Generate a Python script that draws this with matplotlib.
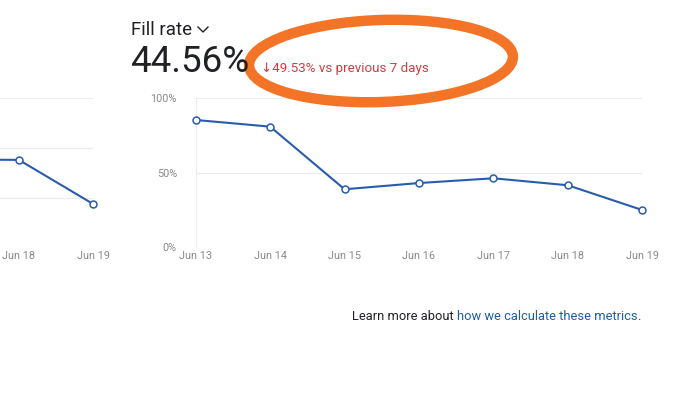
import numpy as np
import matplotlib
matplotlib.use("Agg")
import matplotlib.pyplot as plt
from matplotlib.patches import Ellipse
from matplotlib.lines import Line2D
from matplotlib.transforms import IdentityTransform

# data
dates = ["Jun 13", "Jun 14", "Jun 15", "Jun 16", "Jun 17", "Jun 18", "Jun 19"]
fill_rate = [85.4, 80.9, 38.7, 42.9, 46.1, 41.4, 24.7]
# neighbouring card, only the last days are visible
left_values = [np.nan, np.nan, np.nan, np.nan, 1.77, 1.76, 0.87]
left_labels = ["", "", "", "", "", "Jun 18", "Jun 19"]
left_ticks = [0, 1, 2, 3]
pct_ticks = [0, 50, 100]
pct_labels = ["0%", "50%", "100%"]

title = "Fill rate"
big_value = "44.56%"
change_text = "\u219349.53% vs previous 7 days"

W, H = 690, 396
LINE = "#2a5cad"
GRID = "#ebebeb"
TICK = "#8a8a8a"
INK = "#202124"

plt.rcParams["font.family"] = ["Roboto", "DejaVu Sans"]


def fx(px):
    return px / W


def fy(py):
    return 1 - py / H


def style_axes(ax, ymax, yticks, xlabels):
    ax.set_xlim(0, len(dates) - 1)
    ax.set_ylim(0, ymax)
    ax.set_yticks(yticks)
    ax.grid(axis="y", color=GRID, lw=0.8)
    ax.set_axisbelow(True)
    for s in ["top", "right", "bottom"]:
        ax.spines[s].set_visible(False)
    ax.spines["left"].set_color(GRID)
    ax.spines["left"].set_linewidth(0.8)
    ax.set_xticks(range(len(dates)))
    ax.set_xticklabels(xlabels)
    ax.tick_params(length=0, labelsize=7.8, labelcolor=TICK)
    ax.tick_params(axis="x", pad=3)
    ax.tick_params(axis="y", pad=13.5)
    ax.patch.set_alpha(0)


fig = plt.figure(figsize=(W / 100, H / 100), dpi=100)

x0, x6 = 195.7, 642.3
ytop, ybot = 98.3, 246.7
ax = fig.add_axes([fx(x0), fy(ybot), (x6 - x0) / W, (ybot - ytop) / H])
style_axes(ax, 100, pct_ticks, dates)
ax.set_yticklabels(pct_labels)
ax.plot(range(len(dates)), fill_rate, color=LINE, lw=1.5, marker="o", ms=5,
        mfc="white", mec=LINE, mew=1.1, clip_on=False, zorder=3)

# partial chart on the left edge
step = (x6 - x0) / 6
lx6 = 93.3
ax2 = fig.add_axes([fx(lx6 - 6 * step), fy(247.3), 6 * step / W, (247.3 - 98.3) / H])
style_axes(ax2, 3, left_ticks, left_labels)
ax2.set_yticklabels([])
ax2.spines["left"].set_visible(False)
ax2.plot(range(len(dates)), left_values, color=LINE, lw=1.5, marker="o", ms=5,
         mfc="white", mec=LINE, mew=1.1, clip_on=False, zorder=3)
ax2.plot([3, 4], [left_values[4], left_values[4]], color=LINE, lw=1.5)

# header
fig.text(fx(131), fy(35), title, fontsize=13.5, color=INK, va="baseline")
fig.add_artist(Line2D([fx(198), fx(203), fx(208)], [fy(27), fy(32), fy(27)],
                      transform=fig.transFigure, color=INK, lw=1.0))
fig.text(fx(130), fy(71.7), big_value, fontsize=26.5, color=INK, va="baseline")
fig.text(fx(261), fy(71.7), change_text, fontsize=9.6, color="#cf3c44", va="baseline")

# hand drawn highlight
fig.add_artist(Ellipse((381, H - 61), 264, 82, angle=2, fill=False,
                       ec="#f47427", lw=7.5, transform=IdentityTransform()))

# footer with link
t1 = fig.text(fx(352), fy(320.5), "Learn more about ", fontsize=9.3,
              color=INK, va="baseline")
t2 = fig.text(0, 0, "how we calculate these metrics", fontsize=9.3,
              color="#1b5ea6", va="baseline")
t3 = fig.text(0, 0, ".", fontsize=9.3, color=INK, va="baseline")
fig.canvas.draw()
r = fig.canvas.get_renderer()
b1 = t1.get_window_extent(r)
t2.set_position((b1.x1 / W, fy(320.5)))
fig.canvas.draw()
b2 = t2.get_window_extent(r)
t3.set_position((b2.x1 / W, fy(320.5)))

fig.savefig("out.png", dpi=100, facecolor="white")
